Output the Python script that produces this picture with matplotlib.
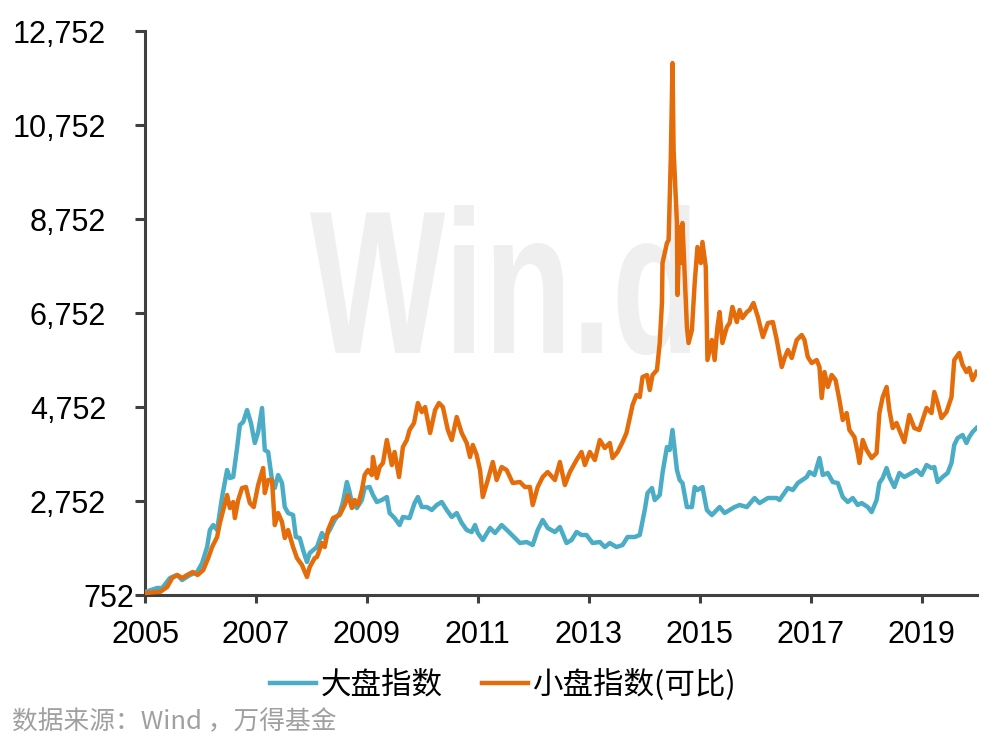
import numpy as np
import matplotlib.pyplot as plt
import matplotlib.transforms as mtransforms
from matplotlib.textpath import TextPath
from matplotlib.patches import PathPatch
from matplotlib.font_manager import FontProperties

plt.rcParams['font.family'] = ['Liberation Sans', 'Noto Sans CJK SC', 'DejaVu Sans']

# 大盘指数 (year, value)
big_t = [2005.00, 2005.22, 2005.31, 2005.45, 2005.58, 2005.67, 2005.81, 2005.94, 2006.03, 2006.12,
         2006.17, 2006.23, 2006.30, 2006.39, 2006.48, 2006.53, 2006.59, 2006.66, 2006.71, 2006.77,
         2006.84, 2006.91, 2006.98, 2007.04, 2007.11, 2007.16, 2007.22, 2007.29, 2007.34, 2007.40,
         2007.47, 2007.52, 2007.58, 2007.67, 2007.72, 2007.79, 2007.85, 2007.92, 2007.97, 2008.10,
         2008.19, 2008.24, 2008.33, 2008.42, 2008.51, 2008.57, 2008.64, 2008.68, 2008.73, 2008.82,
         2008.91, 2008.96, 2009.05, 2009.11, 2009.18, 2009.27, 2009.36, 2009.41, 2009.50, 2009.59,
         2009.65, 2009.77, 2009.86, 2009.92, 2009.99, 2010.08, 2010.17, 2010.26, 2010.35, 2010.44,
         2010.53, 2010.62, 2010.71, 2010.80, 2010.89, 2010.95, 2011.00, 2011.09, 2011.22, 2011.31,
         2011.43, 2011.58, 2011.76, 2011.88, 2011.99, 2012.08, 2012.17, 2012.26, 2012.39, 2012.48,
         2012.60, 2012.69, 2012.78, 2012.87, 2012.96, 2013.07, 2013.20, 2013.29, 2013.38, 2013.50,
         2013.61, 2013.70, 2013.83, 2013.92, 2014.01, 2014.06, 2014.14, 2014.19, 2014.28, 2014.33,
         2014.41, 2014.46, 2014.51, 2014.59, 2014.64, 2014.69, 2014.77, 2014.86, 2014.91, 2014.96,
         2015.05, 2015.13, 2015.22, 2015.36, 2015.45, 2015.54, 2015.63, 2015.72, 2015.85, 2015.99,
         2016.08, 2016.23, 2016.39, 2016.44, 2016.59, 2016.68, 2016.77, 2016.93, 2016.98, 2017.07,
         2017.16, 2017.22, 2017.31, 2017.40, 2017.49, 2017.58, 2017.67, 2017.76, 2017.85, 2017.92,
         2018.03, 2018.10, 2018.19, 2018.24, 2018.30, 2018.37, 2018.42, 2018.51, 2018.60, 2018.69,
         2018.82, 2018.91, 2019.00, 2019.09, 2019.18, 2019.23, 2019.29, 2019.38, 2019.47, 2019.54,
         2019.59, 2019.65, 2019.74, 2019.81, 2019.86, 2019.92, 2019.99]
big_v = [816, 901, 901, 1114, 1178, 1071, 1178, 1241, 1433, 1773,
         2135, 2241, 2135, 2837, 3412, 3241, 3263, 3880, 4369, 4433,
         4688, 4412, 3986, 4220, 4731, 3837, 3795, 3199, 3029, 3305,
         3135, 2624, 2497, 2454, 1986, 1965, 1709, 1454, 1646, 1773,
         2071, 1965, 2135, 2348, 2497, 2731, 3156, 2986, 2709, 2603,
         2773, 3029, 3050, 2880, 2731, 2773, 2837, 2497, 2390, 2241,
         2412, 2390, 2709, 2837, 2624, 2624, 2561, 2667, 2731, 2561,
         2412, 2497, 2284, 2135, 2092, 2241, 2071, 1922, 2178, 2071,
         2241, 2071, 1858, 1880, 1816, 2135, 2348, 2178, 2092, 2199,
         1858, 1922, 2092, 2029, 2029, 1858, 1880, 1773, 1858, 1773,
         1816, 1986, 1986, 2029, 2561, 2922, 3029, 2773, 2880, 3348,
         3901, 3837, 4263, 3412, 3199, 3135, 2624, 2624, 3050, 2986,
         3050, 2561, 2454, 2624, 2497, 2561, 2624, 2667, 2624, 2816,
         2709, 2816, 2816, 2773, 3029, 2986, 3135, 3263, 3369, 3305,
         3667, 3305, 3348, 3156, 3135, 2837, 2731, 2816, 2667, 2709,
         2624, 2518, 2773, 3135, 3241, 3454, 3263, 3050, 3348, 3263,
         3348, 3412, 3305, 3518, 3454, 3475, 3156, 3263, 3348, 3561,
         3944, 4092, 4156, 3986, 4114, 4220, 4305]

# 小盘指数(可比) (year, value)
small_t = [2005.00, 2005.22, 2005.27, 2005.40, 2005.49, 2005.58, 2005.67, 2005.76, 2005.86, 2005.95,
           2006.05, 2006.14, 2006.21, 2006.30, 2006.35, 2006.41, 2006.48, 2006.53, 2006.59, 2006.62,
           2006.68, 2006.75, 2006.82, 2006.89, 2006.96, 2007.04, 2007.13, 2007.16, 2007.22, 2007.29,
           2007.34, 2007.40, 2007.47, 2007.52, 2007.58, 2007.67, 2007.74, 2007.83, 2007.92, 2007.97,
           2008.06, 2008.10, 2008.19, 2008.24, 2008.30, 2008.39, 2008.51, 2008.60, 2008.66, 2008.73,
           2008.78, 2008.84, 2008.91, 2008.96, 2009.02, 2009.09, 2009.11, 2009.18, 2009.23, 2009.29,
           2009.36, 2009.45, 2009.50, 2009.58, 2009.65, 2009.72, 2009.77, 2009.85, 2009.92, 2009.99,
           2010.05, 2010.14, 2010.23, 2010.30, 2010.37, 2010.46, 2010.53, 2010.62, 2010.71, 2010.80,
           2010.86, 2010.91, 2010.98, 2011.04, 2011.09, 2011.18, 2011.27, 2011.34, 2011.43, 2011.52,
           2011.63, 2011.76, 2011.85, 2011.94, 2011.99, 2012.08, 2012.17, 2012.26, 2012.39, 2012.48,
           2012.57, 2012.66, 2012.78, 2012.87, 2012.93, 2013.02, 2013.11, 2013.20, 2013.29, 2013.38,
           2013.43, 2013.52, 2013.61, 2013.68, 2013.74, 2013.79, 2013.86, 2013.92, 2013.97, 2014.05,
           2014.10, 2014.15, 2014.23, 2014.28, 2014.32, 2014.33, 2014.41, 2014.44, 2014.48, 2014.51,
           2014.53, 2014.59, 2014.60, 2014.64, 2014.68, 2014.69, 2014.77, 2014.80, 2014.86, 2014.91,
           2014.96, 2015.02, 2015.05, 2015.11, 2015.14, 2015.22, 2015.27, 2015.32, 2015.36, 2015.41,
           2015.49, 2015.54, 2015.59, 2015.67, 2015.72, 2015.77, 2015.85, 2015.90, 2015.97, 2016.05,
           2016.14, 2016.23, 2016.32, 2016.39, 2016.48, 2016.53, 2016.59, 2016.66, 2016.75, 2016.84,
           2016.89, 2016.95, 2017.02, 2017.11, 2017.16, 2017.20, 2017.25, 2017.31, 2017.38, 2017.45,
           2017.52, 2017.58, 2017.65, 2017.70, 2017.79, 2017.85, 2017.88, 2017.94, 2018.01, 2018.10,
           2018.19, 2018.24, 2018.30, 2018.37, 2018.42, 2018.48, 2018.55, 2018.60, 2018.69, 2018.78,
           2018.87, 2018.96, 2019.09, 2019.18, 2019.23, 2019.29, 2019.36, 2019.45, 2019.54, 2019.59,
           2019.68, 2019.74, 2019.81, 2019.86, 2019.92, 2019.99]
small_v = [795, 816, 816, 922, 1114, 1178, 1114, 1178, 1241, 1178,
           1284, 1539, 1773, 1986, 2284, 2561, 2880, 2603, 2731, 2390,
           2773, 3029, 3050, 2709, 2624, 3092, 3454, 2922, 3199, 3199,
           2241, 2497, 2305, 1965, 2135, 1773, 1539, 1390, 1135, 1348,
           1539, 1560, 1858, 1773, 2135, 2390, 2454, 2667, 2880, 2603,
           2773, 2667, 2986, 3305, 3412, 3305, 3688, 3241, 3475, 3561,
           4050, 3518, 3795, 3263, 3901, 4050, 4263, 4412, 4837, 4646,
           4752, 4199, 4688, 4837, 4752, 4263, 4050, 4539, 4199, 3986,
           3688, 3944, 3731, 3412, 2837, 3199, 3582, 3199, 3475, 3412,
           3135, 3156, 3050, 3050, 2667, 3050, 3263, 3369, 3199, 3582,
           3092, 3369, 3624, 3795, 3518, 3795, 3624, 4050, 3880, 3986,
           3667, 3795, 4007, 4199, 4518, 4795, 5007, 4965, 5390, 5433,
           5114, 5433, 5539, 6114, 6965, 7816, 8241, 8305, 10071, 12071,
           10220, 8667, 7135, 8582, 7816, 8667, 6454, 6114, 6390, 7390,
           8156, 7816, 8263, 7731, 5752, 6178, 5752, 6454, 6773, 6114,
           6454, 6539, 6880, 6560, 6816, 6645, 6773, 6816, 6965, 6667,
           6241, 6539, 6560, 6178, 5603, 5795, 5965, 5795, 6178, 6284,
           6178, 5816, 5688, 5752, 5603, 4944, 5497, 5178, 5433, 5326,
           4901, 4475, 4624, 4263, 4114, 3773, 3561, 4050, 3837, 3667,
           3773, 4624, 4965, 5178, 4688, 4305, 4412, 4263, 4007, 4582,
           4305, 4263, 4731, 4624, 5071, 4837, 4518, 4646, 4965, 5752,
           5901, 5646, 5497, 5582, 5326, 5497]

yticks = [752, 2752, 4752, 6752, 8752, 10752, 12752]
xticks = [2005, 2007, 2009, 2011, 2013, 2015, 2017, 2019]

fig = plt.figure(figsize=(10, 7.51), dpi=100)
ax = fig.add_axes([0.145, 0.2077, 0.832, 0.751])

# watermark, squeezed into its box (figure fraction)
tp = TextPath((0, 0), 'Win.d', size=1, prop=FontProperties(family='Liberation Sans', weight='bold'))
ext = tp.get_extents()
x0, x1, y0, y1 = 0.31, 0.69, 1 - 355 / 751, 1 - 205 / 751
wm_tr = (mtransforms.Affine2D().translate(-ext.x0, -ext.y0)
         .scale((x1 - x0) / ext.width, (y1 - y0) / ext.height)
         .translate(x0, y0) + fig.transFigure)
ax.add_patch(PathPatch(tp, transform=wm_tr, facecolor='#efefef', edgecolor='none', zorder=0))

ax.plot(big_t, big_v, color='#4bacc6', lw=3.2, label='大盘指数', zorder=3)
ax.plot(small_t, small_v, color='#e46c0a', lw=3.2, label='小盘指数(可比)', zorder=4)

ax.set_xlim(2005, 2020)
ax.set_ylim(752, 12752)
ax.set_yticks(yticks)
ax.set_yticklabels([f'{v:,}' for v in yticks])
ax.set_xticks(xticks)
ax.set_xticklabels([str(x) for x in xticks])

for s in ['top', 'right']:
    ax.spines[s].set_visible(False)
for s in ['left', 'bottom']:
    ax.spines[s].set_color('#404040')
    ax.spines[s].set_linewidth(2.2)

ax.tick_params(axis='y', direction='out', length=7, width=2.2, color='#404040',
               pad=21, labelsize=22, labelcolor='black')
ax.tick_params(axis='x', direction='out', length=6, width=2.2, color='#404040',
               pad=12, labelsize=22, labelcolor='black')

# bottom label sits next to the axis
lbl0 = ax.get_yticklabels()[0]
lbl0.set_transform(lbl0.get_transform() + mtransforms.ScaledTranslation(0.28, 0, fig.dpi_scale_trans))

leg = ax.legend(loc='center', bbox_to_anchor=(0.503, 0.088), bbox_transform=fig.transFigure,
                ncol=2, frameon=False, handlelength=1.5, handletextpad=0.15, columnspacing=1.3,
                prop={'family': ['Noto Sans CJK SC', 'DejaVu Sans'], 'size': 22})

fig.text(0.012, 0.038, '数据来源：Wind ，万得基金', ha='left', va='center',
         fontsize=18.5, color='#a0a0a0', family=['Noto Sans CJK SC', 'DejaVu Sans'])

fig.savefig('out.png', dpi=100)
